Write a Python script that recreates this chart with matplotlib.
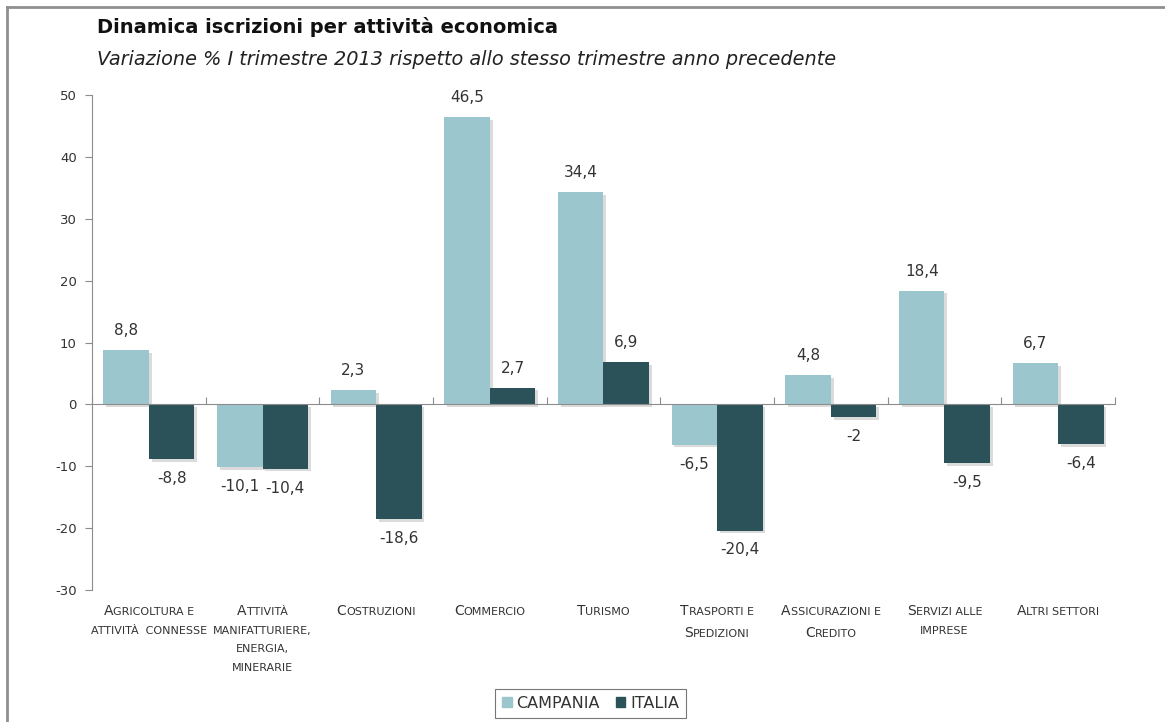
import matplotlib
matplotlib.use("Agg")
import matplotlib.pyplot as plt
import numpy as np
from matplotlib import patheffects as pe
from matplotlib.offsetbox import TextArea, HPacker, VPacker, AnnotationBbox
from matplotlib.patches import Rectangle
from matplotlib.lines import Line2D

plt.rcParams['font.family'] = ['DejaVu Sans']
plt.rcParams['axes.unicode_minus'] = False

settori = [
    ["Agricoltura e", "attività  connesse"],
    ["Attività", "manifatturiere,", "energia,", "minerarie"],
    ["Costruzioni"],
    ["Commercio"],
    ["Turismo"],
    ["Trasporti e", "Spedizioni"],
    ["Assicurazioni e", "Credito"],
    ["Servizi alle", "imprese"],
    ["Altri settori"],
]
campania = [8.8, -10.1, 2.3, 46.5, 34.4, -6.5, 4.8, 18.4, 6.7]
italia = [-8.8, -10.4, -18.6, 2.7, 6.9, -20.4, -2, -9.5, -6.4]

col_campania = "#9cc6ce"
col_italia = "#2b5258"
grigio = "#8c8c8c"
testo = "#333333"

fig = plt.figure(figsize=(11.65, 7.22), dpi=100)
ax = fig.add_axes([0.079, 0.183, 0.878, 0.685])

x = np.arange(len(campania))
w = 0.4
ombra = [pe.SimplePatchShadow(offset=(2, -2), shadow_rgbFace="#8a8a8a", alpha=0.3), pe.Normal()]
b1 = ax.bar(x - w / 2, campania, w, color=col_campania, zorder=2)
b2 = ax.bar(x + w / 2, italia, w, color=col_italia, zorder=2)
for b in list(b1) + list(b2):
    b.set_path_effects(ombra)

# etichette dei valori sopra/sotto le barre
for bars, vals in ((b1, campania), (b2, italia)):
    for b, v in zip(bars, vals):
        cx = b.get_x() + b.get_width() / 2
        off = 14 if v >= 0 else -14
        ax.annotate(f"{v:g}".replace(".", ","), (cx, v), xytext=(0, off),
                    textcoords="offset points", ha="center", va="center",
                    fontsize=11, color=testo)

ax.set_xlim(-0.5, len(campania) - 0.5)
ax.set_ylim(-30, 50)
ax.set_yticks(range(-30, 51, 10))
ax.tick_params(axis="y", length=5, color=grigio, labelsize=9.5, labelcolor=testo, pad=6)
ax.set_xticks(np.arange(-0.5, len(campania), 1))
ax.set_xticklabels([])
ax.tick_params(axis="x", direction="in", length=5, color=grigio)
for s in ("top", "right"):
    ax.spines[s].set_visible(False)
ax.spines["bottom"].set_position(("data", 0))
ax.spines["bottom"].set_color(grigio)
ax.spines["left"].set_color(grigio)
ax.spines["bottom"].set_zorder(3)


def riga_maiuscoletto(riga):
    props_g = dict(size=10, color=testo)
    props_p = dict(size=8, color=testo)
    if riga[0].isupper():
        parti = [TextArea(riga[0], textprops=props_g),
                 TextArea(riga[1:].upper(), textprops=props_p)]
    else:
        parti = [TextArea(riga.upper(), textprops=props_p)]
    return HPacker(children=parti, align="baseline", pad=0, sep=0)


for i, righe in enumerate(settori):
    box = VPacker(children=[riga_maiuscoletto(r) for r in righe],
                  align="center", pad=0, sep=6)
    ab = AnnotationBbox(box, (i, 0), xycoords=("data", "axes fraction"),
                        xybox=(0, -10), boxcoords="offset points",
                        box_alignment=(0.5, 1), frameon=False)
    ax.add_artist(ab)

fig.text(0.083, 0.962, "Dinamica iscrizioni per attività economica",
         fontsize=14, fontweight="bold", color="#111111", va="center")
fig.text(0.083, 0.918, "Variazione % I trimestre 2013 rispetto allo stesso trimestre anno precedente",
         fontsize=13.9, fontstyle="italic", color="#222222", va="center")

handles = [Rectangle((0, 0), 1, 1, color=col_campania),
           Rectangle((0, 0), 1, 1, color=col_italia)]
leg = fig.legend(handles, ["CAMPANIA", "ITALIA"], loc="center", bbox_to_anchor=(0.507, 0.026),
                 ncol=2, fontsize=11.5, frameon=True, fancybox=False, handlelength=0.6,
                 handleheight=0.6, handletextpad=0.3, columnspacing=1.0, borderpad=0.45)
leg.get_frame().set_edgecolor("#555555")
leg.get_frame().set_linewidth(0.8)
for t in leg.get_texts():
    t.set_color(testo)

# cornice del grafico
fig.add_artist(Line2D([0.006, 0.006], [0, 0.99], transform=fig.transFigure, color="#8f8f8f", lw=2))
fig.add_artist(Line2D([0.006, 1], [0.99, 0.99], transform=fig.transFigure, color="#8f8f8f", lw=2))

fig.savefig("out.png", dpi=100)
